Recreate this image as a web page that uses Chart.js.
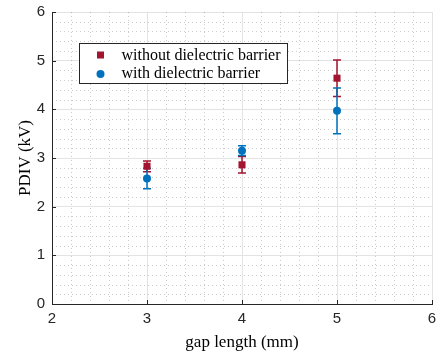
<!DOCTYPE html>
<html>
<head>
<meta charset="utf-8">
<script src="https://cdn.jsdelivr.net/npm/chart.js@4/dist/chart.umd.min.js"></script>
<style>
  html, body { margin: 0; padding: 0; background: #fff; }
  #wrap { width: 438px; height: 358px; }
</style>
</head>
<body>
<div id="wrap"><canvas id="pdivChart" width="438" height="358"></canvas></div>
<script>
const gapLength = [3, 4, 5];
const withoutMean = [2.83, 2.86, 4.64];
const withoutErr = [0.11, 0.17, 0.375];
const withMean = [2.58, 3.15, 3.97];
const withErr = [0.21, 0.10, 0.47];
const seriesNames = ["without dielectric barrier", "with dielectric barrier"];
const xTicks = [2, 3, 4, 5, 6];
const yTicks = [0, 1, 2, 3, 4, 5, 6];

const RED = "#A2142F";
const BLUE = "#0072BD";
const AXIS = "#262626";

const toPoints = (xs, ys) => xs.map((x, i) => ({ x, y: ys[i] }));

// minor dotted grid + inward ticks
const gridPlugin = {
  id: "matlabGrid",
  beforeDatasetsDraw(chart) {
    const { ctx, chartArea: a, scales: { x, y } } = chart;
    ctx.save();
    ctx.strokeStyle = "rgba(0,0,0,0.2)";
    ctx.lineWidth = 1;
    ctx.setLineDash([1, 3]);
    for (let v = 2; v <= 6.0001; v += 0.2) {
      if (Math.abs(v - Math.round(v)) < 0.01) continue;
      const px = Math.round(x.getPixelForValue(v)) + 0.5;
      ctx.beginPath(); ctx.moveTo(px, a.top); ctx.lineTo(px, a.bottom); ctx.stroke();
    }
    for (let v = 0; v <= 6.0001; v += 0.2) {
      if (Math.abs(v - Math.round(v)) < 0.01) continue;
      const py = Math.round(y.getPixelForValue(v)) + 0.5;
      ctx.beginPath(); ctx.moveTo(a.left, py); ctx.lineTo(a.right, py); ctx.stroke();
    }
    ctx.setLineDash([]);
    ctx.strokeStyle = AXIS;
    xTicks.forEach(v => {
      const px = Math.round(x.getPixelForValue(v)) + 0.5;
      ctx.beginPath(); ctx.moveTo(px, a.bottom); ctx.lineTo(px, a.bottom - 4); ctx.stroke();
    });
    yTicks.forEach(v => {
      const py = Math.round(y.getPixelForValue(v)) + 0.5;
      ctx.beginPath(); ctx.moveTo(a.left, py); ctx.lineTo(a.left + 4, py); ctx.stroke();
    });
    ctx.restore();
  }
};

const errorBarPlugin = {
  id: "errorBars",
  beforeDatasetsDraw(chart) {
    const { ctx, scales: { x, y } } = chart;
    const sets = [[withoutMean, withoutErr, RED], [withMean, withErr, BLUE]];
    ctx.save();
    ctx.lineWidth = 1.5;
    sets.forEach(([mean, err, color]) => {
      ctx.strokeStyle = color;
      gapLength.forEach((g, i) => {
        const px = x.getPixelForValue(g);
        const top = y.getPixelForValue(mean[i] + err[i]);
        const bot = y.getPixelForValue(mean[i] - err[i]);
        ctx.beginPath();
        ctx.moveTo(px, top); ctx.lineTo(px, bot);
        ctx.moveTo(px - 4, top); ctx.lineTo(px + 4, top);
        ctx.moveTo(px - 4, bot); ctx.lineTo(px + 4, bot);
        ctx.stroke();
      });
    });
    ctx.restore();
  }
};

const legendPlugin = {
  id: "boxLegend",
  afterDatasetsDraw(chart) {
    const { ctx, chartArea: a } = chart;
    const bx = Math.round(a.left) + 27.5, by = Math.round(a.top) + 31.5, bw = 208, bh = 40;
    ctx.save();
    ctx.fillStyle = "#fff";
    ctx.fillRect(bx, by, bw, bh);
    ctx.strokeStyle = AXIS;
    ctx.lineWidth = 1;
    ctx.strokeRect(bx, by, bw, bh);
    ctx.fillStyle = RED;
    ctx.fillRect(bx + 17.5, by + 8, 7, 7);
    ctx.fillStyle = BLUE;
    ctx.beginPath(); ctx.arc(bx + 21, by + 30.5, 4, 0, Math.PI * 2); ctx.fill();
    ctx.fillStyle = "#000";
    ctx.font = "16px 'Liberation Serif', serif";
    ctx.textBaseline = "middle";
    ctx.fillText(seriesNames[0], bx + 42, by + 12);
    ctx.fillText(seriesNames[1], bx + 42, by + 30);
    ctx.restore();
  }
};

new Chart(document.getElementById("pdivChart"), {
  type: "scatter",
  data: {
    datasets: [
      {
        label: seriesNames[0],
        data: toPoints(gapLength, withoutMean),
        pointStyle: "rect",
        pointRadius: 5,
        backgroundColor: RED,
        borderColor: RED,
        borderWidth: 0
      },
      {
        label: seriesNames[1],
        data: toPoints(gapLength, withMean),
        pointStyle: "circle",
        pointRadius: 4,
        backgroundColor: BLUE,
        borderColor: BLUE,
        borderWidth: 0
      }
    ]
  },
  options: {
    responsive: false,
    animation: false,
    events: [],
    layout: { padding: { top: 12, right: 6, left: 0, bottom: 0 } },
    plugins: { legend: { display: false }, tooltip: { enabled: false } },
    scales: {
      x: {
        type: "linear",
        min: 2, max: 6,
        // drop the label-overflow padding so the plot box sits where the reference has it
        afterFit: s => { s.height = 54; s.paddingLeft = 0; s.paddingRight = 0; },
        afterBuildTicks: s => { s.ticks = xTicks.map(v => ({ value: v })); },
        grid: { color: "#e3e3e3", drawTicks: false },
        border: { color: AXIS, width: 1 },
        ticks: { color: AXIS, padding: 6, font: { family: "'Liberation Sans', Arial", size: 15 } },
        title: {
          display: true, text: "gap length (mm)", color: "#000",
          font: { family: "'Liberation Serif', serif", size: 17 },
          padding: { top: 0, bottom: 5 }
        }
      },
      y: {
        type: "linear",
        min: 0, max: 6,
        afterFit: s => { s.width = 52; s.paddingTop = 0; s.paddingBottom = 0; },
        afterBuildTicks: s => { s.ticks = yTicks.map(v => ({ value: v })); },
        grid: { color: "#e3e3e3", drawTicks: false },
        border: { color: AXIS, width: 1 },
        ticks: { color: AXIS, padding: 7, font: { family: "'Liberation Sans', Arial", size: 15 } },
        title: {
          display: true, text: "PDIV (kV)", color: "#000",
          font: { family: "'Liberation Serif', serif", size: 17 },
          padding: { top: 15, bottom: 0 }
        }
      }
    }
  },
  plugins: [gridPlugin, errorBarPlugin, legendPlugin]
});
</script>
</body>
</html>
